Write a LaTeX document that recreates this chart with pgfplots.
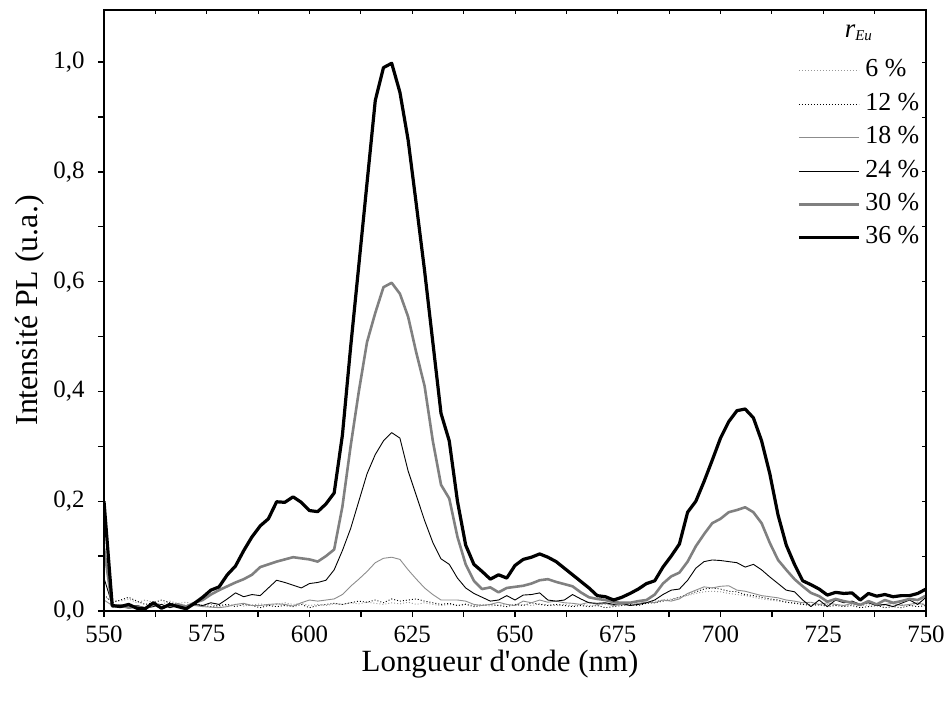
\documentclass[border=0pt]{standalone}
\usepackage{fontspec}
\setmainfont{Liberation Serif}
\usepackage{pgfplots}
\usepackage{pgfplotstable}
\pgfplotsset{compat=1.18}
\pgfplotstableread{
x a b c d e f
550 0.025 0.030 0.020 0.060 0.115 0.200
552 0.020 0.015 0.010 0.012 0.008 0.010
554 0.018 0.020 0.012 0.008 0.010 0.008
556 0.022 0.025 0.008 0.006 0.006 0.012
558 0.015 0.018 0.010 0.010 0.008 0.005
560 0.020 0.012 0.006 0.005 0.005 0.004
562 0.016 0.015 0.010 0.008 0.012 0.015
564 0.012 0.020 0.008 0.012 0.006 0.005
566 0.018 0.015 0.012 0.006 0.010 0.012
568 0.014 0.012 0.010 0.010 0.012 0.008
570 0.016 0.010 0.008 0.008 0.008 0.004
572 0.012 0.014 0.010 0.012 0.015 0.014
574 0.010 0.010 0.008 0.010 0.020 0.025
576 0.012 0.008 0.007 0.015 0.030 0.038
578 0.008 0.010 0.006 0.012 0.038 0.044
580 0.010 0.012 0.008 0.022 0.045 0.066
582 0.012 0.008 0.012 0.033 0.052 0.082
584 0.009 0.012 0.014 0.026 0.058 0.110
586 0.011 0.010 0.010 0.030 0.066 0.135
588 0.013 0.006 0.010 0.028 0.080 0.155
590 0.010 0.010 0.012 0.042 0.085 0.168
592 0.012 0.008 0.013 0.056 0.090 0.199
594 0.015 0.010 0.012 0.052 0.094 0.198
596 0.012 0.008 0.009 0.047 0.098 0.208
598 0.014 0.012 0.015 0.042 0.096 0.198
600 0.010 0.006 0.020 0.050 0.094 0.183
602 0.012 0.010 0.018 0.052 0.090 0.181
604 0.010 0.012 0.020 0.056 0.100 0.195
606 0.013 0.014 0.022 0.075 0.112 0.215
608 0.012 0.012 0.030 0.110 0.190 0.320
610 0.015 0.015 0.045 0.150 0.300 0.480
612 0.013 0.018 0.058 0.200 0.400 0.630
614 0.016 0.016 0.072 0.250 0.490 0.780
616 0.014 0.020 0.088 0.285 0.543 0.930
618 0.012 0.015 0.096 0.310 0.590 0.990
620 0.015 0.022 0.098 0.325 0.598 0.998
622 0.013 0.018 0.094 0.315 0.578 0.945
624 0.016 0.020 0.075 0.255 0.536 0.858
626 0.012 0.022 0.058 0.210 0.470 0.740
628 0.015 0.018 0.042 0.165 0.410 0.620
630 0.012 0.015 0.030 0.125 0.310 0.490
632 0.010 0.012 0.020 0.095 0.230 0.360
634 0.012 0.014 0.020 0.085 0.205 0.310
636 0.010 0.010 0.020 0.060 0.135 0.200
638 0.013 0.012 0.018 0.042 0.085 0.120
640 0.010 0.008 0.012 0.032 0.055 0.085
642 0.012 0.010 0.010 0.025 0.040 0.072
644 0.009 0.012 0.012 0.018 0.043 0.058
646 0.011 0.010 0.016 0.020 0.034 0.066
648 0.012 0.008 0.012 0.028 0.042 0.060
650 0.010 0.012 0.010 0.020 0.044 0.083
652 0.012 0.010 0.018 0.029 0.046 0.094
654 0.010 0.015 0.015 0.030 0.050 0.098
656 0.013 0.012 0.020 0.033 0.056 0.104
658 0.011 0.010 0.016 0.020 0.058 0.098
660 0.010 0.012 0.018 0.018 0.053 0.090
662 0.012 0.010 0.015 0.020 0.049 0.078
664 0.010 0.008 0.014 0.030 0.045 0.066
666 0.012 0.010 0.012 0.022 0.034 0.054
668 0.010 0.008 0.016 0.015 0.025 0.042
670 0.011 0.010 0.012 0.014 0.022 0.028
672 0.012 0.006 0.014 0.015 0.020 0.026
674 0.010 0.008 0.010 0.012 0.016 0.020
676 0.012 0.010 0.012 0.014 0.015 0.025
678 0.014 0.012 0.010 0.010 0.015 0.032
680 0.012 0.010 0.014 0.012 0.018 0.040
682 0.015 0.014 0.016 0.015 0.020 0.050
684 0.018 0.015 0.015 0.020 0.030 0.055
686 0.020 0.018 0.020 0.030 0.050 0.080
688 0.022 0.020 0.018 0.038 0.063 0.100
690 0.025 0.025 0.022 0.040 0.070 0.122
692 0.028 0.030 0.032 0.056 0.090 0.180
694 0.032 0.035 0.038 0.078 0.118 0.200
696 0.035 0.040 0.044 0.090 0.140 0.236
698 0.036 0.042 0.042 0.093 0.160 0.275
700 0.035 0.040 0.045 0.092 0.168 0.315
702 0.032 0.036 0.046 0.090 0.180 0.345
704 0.030 0.035 0.038 0.088 0.184 0.365
706 0.028 0.030 0.036 0.080 0.189 0.368
708 0.025 0.028 0.032 0.085 0.180 0.352
710 0.022 0.025 0.028 0.075 0.160 0.310
712 0.020 0.022 0.026 0.062 0.124 0.250
714 0.018 0.020 0.024 0.050 0.093 0.175
716 0.016 0.016 0.020 0.038 0.075 0.120
718 0.015 0.014 0.018 0.035 0.058 0.085
720 0.013 0.012 0.015 0.020 0.045 0.055
722 0.012 0.010 0.016 0.008 0.033 0.048
724 0.010 0.012 0.012 0.020 0.027 0.040
726 0.012 0.008 0.015 0.008 0.017 0.029
728 0.011 0.010 0.012 0.020 0.022 0.034
730 0.010 0.008 0.010 0.015 0.018 0.032
732 0.012 0.010 0.014 0.018 0.015 0.033
734 0.010 0.006 0.012 0.012 0.011 0.020
736 0.011 0.008 0.016 0.015 0.018 0.032
738 0.012 0.010 0.010 0.010 0.012 0.027
740 0.010 0.006 0.012 0.012 0.020 0.030
742 0.011 0.008 0.014 0.008 0.015 0.026
744 0.012 0.006 0.010 0.014 0.018 0.028
746 0.010 0.010 0.012 0.020 0.022 0.028
748 0.012 0.008 0.015 0.012 0.020 0.032
750 0.015 0.010 0.010 0.025 0.028 0.040
}\data
\definecolor{gA}{gray}{0.6}
\definecolor{gC}{gray}{0.55}
\definecolor{gE}{gray}{0.5}
\begin{document}
\begin{tikzpicture}
\begin{axis}[
  at={(0,0)}, anchor=south west,
  scale only axis, width=822bp, height=601bp,
  xmin=550, xmax=750, ymin=0, ymax=1.095,
  xtick={550,575,...,750}, minor x tick num=1,
  ytick={0,0.2,...,1.0}, minor y tick num=1,
  xtick pos=left, ytick pos=left, tick align=outside,
  major tick length=6bp, minor tick length=6bp,
  every tick/.style={black, line width=1.4bp},
  axis line style={line width=1.6bp},
  /pgf/number format/assume math mode=true,
  yticklabel style={/pgf/number format/.cd, fixed, fixed zerofill, precision=1, use comma, /tikz/.cd, xshift=-10bp},
  xticklabel style={/pgf/number format/.cd, fixed, precision=0, 1000 sep={}, /tikz/.cd, yshift=-5bp},
  ticklabel style={font=\fontsize{25}{29}\selectfont},
  xlabel={Longueur d\textquotesingle onde (nm)}, ylabel={Intensité PL (u.a.)},
  every axis x label/.style={at={(axis description cs:0.5,0)}, anchor=center, xshift=-15bp, yshift=-53bp, font=\fontsize{31}{35}\selectfont},
  every axis y label/.style={at={(axis description cs:-0.090,0.5)}, anchor=center, rotate=90, font=\fontsize{32}{36}\selectfont},
  legend style={draw=none, fill=none, at={(axis description cs:0.843,0.919)}, anchor=north west, inner sep=0pt, row sep=9.4bp, column sep=5bp, font=\fontsize{26}{30}\selectfont, nodes={inner sep=0pt, text height=18bp, text depth=6bp}},
  legend cell align=left,
  legend image code/.code={\draw[#1] (0bp,0bp) -- (60bp,0bp);},
  line join=round,
]
\addplot[gA, line width=0.9bp, dash pattern=on 1bp off 2bp] table[x=x,y=a]{\data};
\addlegendentry{6 \%}
\addplot[black, line width=0.9bp, dash pattern=on 1bp off 2bp] table[x=x,y=b]{\data};
\addlegendentry{12 \%}
\addplot[gC, line width=0.9bp] table[x=x,y=c]{\data};
\addlegendentry{18 \%}
\addplot[black, line width=0.9bp] table[x=x,y=d]{\data};
\addlegendentry{24 \%}
\addplot[gE, line width=2.6bp] table[x=x,y=e]{\data};
\addlegendentry{30 \%}
\addplot[black, line width=3.2bp] table[x=x,y=f]{\data};
\addlegendentry{36 \%}
\node[font=\fontsize{27}{30}\selectfont] at (axis description cs:0.918,0.962) {\textit{r}\textsubscript{\textit{\fontsize{15}{17}\selectfont Eu}}};
\end{axis}
\begin{axis}[
  at={(0,0)}, anchor=south west,
  scale only axis, width=822bp, height=601bp,
  xmin=550, xmax=750, ymin=0, ymax=1.095,
  xtick={550,575,...,750}, minor x tick num=1,
  ytick={0,0.2,...,1.0}, minor y tick num=1,
  xtick pos=right, ytick pos=right, tick align=inside,
  major tick length=4bp, minor tick length=4bp,
  every tick/.style={black, line width=1bp},
  axis line style={line width=1.6bp},
  xticklabels={}, yticklabels={},
]
\end{axis}
\pgfresetboundingbox
\path[use as bounding box] (-104bp,-95bp) rectangle (843bp,611bp);
\end{tikzpicture}
\end{document}
